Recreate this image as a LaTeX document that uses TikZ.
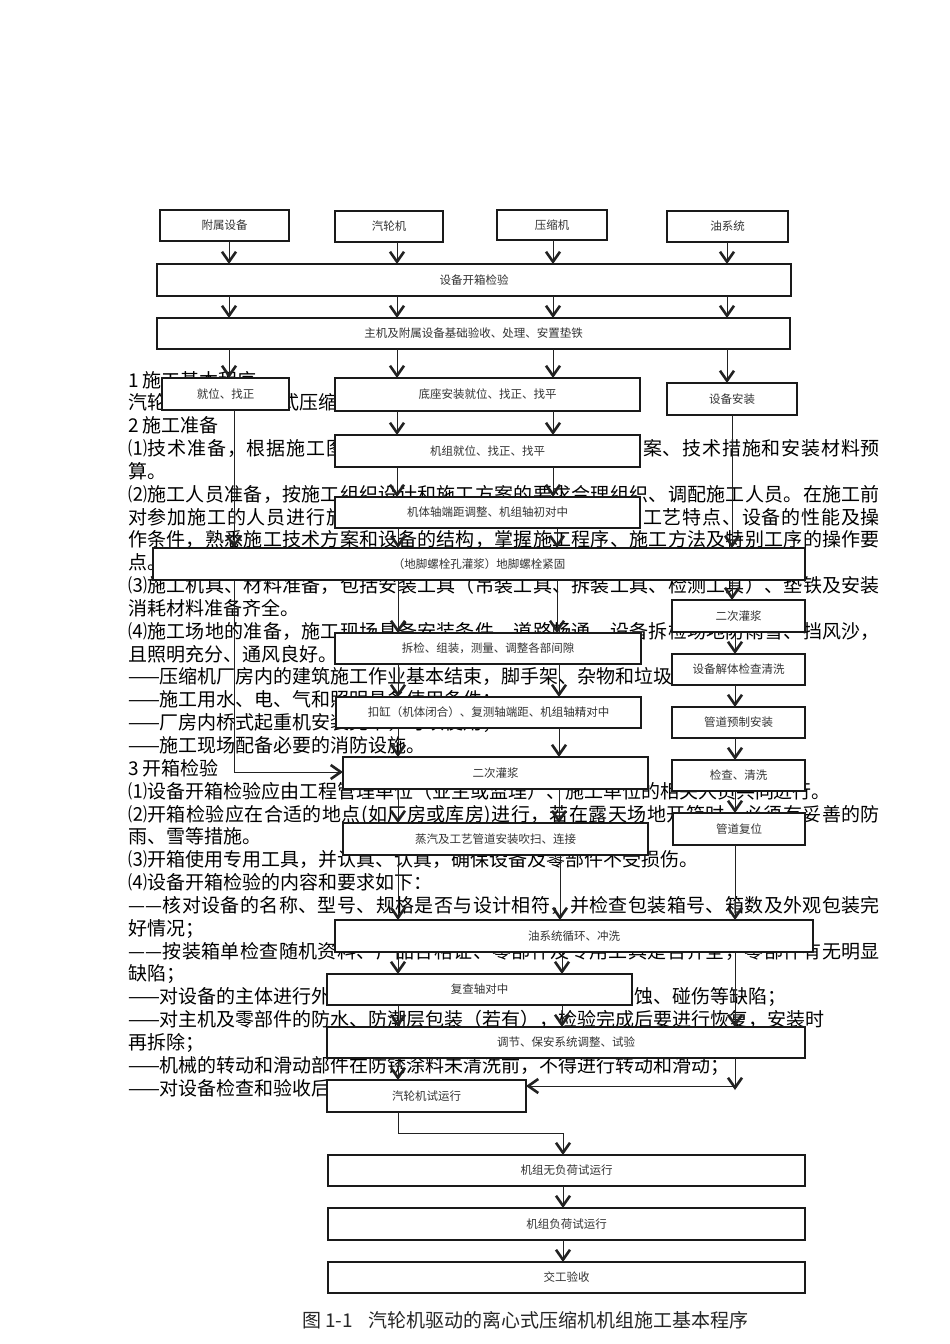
\documentclass[tikz,border=0pt]{standalone}
\usepackage{fontspec}
\setmainfont{Noto Sans CJK SC}
\usetikzlibrary{arrows.meta}
\pgfdeclarelayer{paper}
\pgfdeclarelayer{bg}
\pgfsetlayers{paper,bg,main}
\def\jlstop{\jlstop}
\newcommand\jlglue{\hskip 0pt plus 1fil minus 1pt\relax}
\newcommand\jline[1]{\hbox to 752pt{\jlfirst#1\jlstop}}
\def\jlfirst#1{#1\jlrest}
\def\jlrest#1{\ifx\jlstop#1\else\jlglue#1\expandafter\jlrest\fi}
\definecolor{boxline}{HTML}{1A1A1A}
\definecolor{labelc}{HTML}{333333}
\definecolor{linec}{HTML}{222222}
\tikzset{
  box/.style={draw=boxline, line width=1.3pt, fill=white, inner sep=0pt, outer sep=0pt,
    font=\fontsize{11.5}{13}\selectfont, text=labelc},
  txt/.style={anchor=base west, inner sep=0pt, outer sep=0pt, font=\fontsize{19}{22}\selectfont, text=black},
  arr/.style={draw=linec, line width=0.9pt, -{Straight Barb[length=10pt,width=14pt,line width=2.6pt]}},
  ln/.style={draw=linec, line width=0.9pt}
}
\newcommand\bx[6]{\node[box,minimum width={#4-#2},minimum height={#5-#3}] (#1) at ({(#2+#4)/2},{(#3+#5)/2}) {#6};}
\begin{document}
\begin{tikzpicture}[x=1pt,y=-1pt]
\useasboundingbox (0,0) rectangle (950,1344);
\begin{pgfonlayer}{paper}
\fill[white] (0,0) rectangle (950,1344);
\end{pgfonlayer}
% ---------- background text ----------
\begin{pgfonlayer}{bg}
\node[txt] (t1) at (128,387.0) {1 施工基本程序};
\node[txt] (t2) at (128,409.8) {汽轮机驱动的离心式压缩机机组施工基本程序见图1-1。};
\node[txt] (t3) at (128,432.7) {2 施工准备};
\node[txt] (t4) at (128,455.5) {\jline{⑴技术准备，根据施工图纸和设备技术文件编制施工技术方案、技术措施和安装材料预}};
\node[txt] (t5) at (128,478.4) {算。};
\node[txt] (t6) at (128,501.2) {\jline{⑵施工人员准备，按施工组织设计和施工方案的要求合理组织、调配施工人员。在施工前}};
\node[txt] (t7) at (128,524.0) {\jline{对参加施工的人员进行施工技术交底，使其了解压缩机组的工艺特点、设备的性能及操}};
\node[txt] (t8) at (128,546.9) {\jline{作条件，熟悉施工技术方案和设备的结构，掌握施工程序、施工方法及特别工序的操作要}};
\node[txt] (t9) at (128,569.7) {点。};
\node[txt] (t10) at (128,592.6) {\jline{⑶施工机具、材料准备，包括安装工具（吊装工具、拆装工具、检测工具）、垫铁及安装}};
\node[txt] (t11) at (128,615.4) {消耗材料准备齐全。};
\node[txt] (t12) at (128,638.2) {\jline{⑷施工场地的准备，施工现场具备安装条件，道路畅通，设备拆检场地防雨雪、挡风沙，}};
\node[txt] (t13) at (128,661.1) {且照明充分、通风良好。};
\node[txt] (t14) at (128,683.9) {——压缩机厂房内的建筑施工作业基本结束，脚手架、杂物和垃圾清理干净；};
\node[txt] (t15) at (128,706.8) {——施工用水、电、气和照明具备使用条件；};
\node[txt] (t16) at (128,729.6) {——厂房内桥式起重机安装完毕，可以使用；};
\node[txt] (t17) at (128,752.4) {——施工现场配备必要的消防设施。};
\node[txt] (t18) at (128,775.3) {3 开箱检验};
\node[txt] (t19) at (128,798.1) {⑴设备开箱检验应由工程管理单位（业主或监理）、施工单位的相关人员共同进行。};
\node[txt] (t20) at (128,821.0) {\jline{⑵开箱检验应在合适的地点(如厂房或库房)进行，若在露天场地开箱时，必须有妥善的防}};
\node[txt] (t21) at (128,843.8) {雨、雪等措施。};
\node[txt] (t22) at (128,866.6) {⑶开箱使用专用工具，并认真、认真，确保设备及零部件不受损伤。};
\node[txt] (t23) at (128,889.5) {⑷设备开箱检验的内容和要求如下：};
\node[txt] (t24) at (128,912.3) {\jline{——核对设备的名称、型号、规格是否与设计相符，并检查包装箱号、箱数及外观包装完}};
\node[txt] (t25) at (128,935.2) {好情况；};
\node[txt] (t26) at (128,958.0) {\jline{——按装箱单检查随机资料、产品合格证、零部件及专用工具是否齐全，零部件有无明显}};
\node[txt] (t27) at (128,980.8) {缺陷；};
\node[txt] (t28) at (128,1003.7) {——对设备的主体进行外观检查，检查其有无损坏、变形、锈蚀、碰伤等缺陷；};
\node[txt] (t29) at (128,1026.5) {——对主机及零部件的防水、防潮层包装（若有），检验完成后要进行恢复，安装时};
\node[txt] (t30) at (128,1049.4) {再拆除；};
\node[txt] (t31) at (128,1072.2) {——机械的转动和滑动部件在防锈涂料未清洗前，不得进行转动和滑动；};
\node[txt] (t32) at (128,1095.0) {——对设备检查和验收后应做好记录。};
\end{pgfonlayer}
% ---------- boxes ----------
\bx{fs}{160}{210}{289}{241}{附属设备}
\bx{qlj}{335}{211}{443}{242}{汽轮机}
\bx{ysj}{497}{210}{607}{240}{压缩机}
\bx{yxt}{667}{211}{788}{242}{油系统}
\bx{kx}{157}{264}{791}{296}{设备开箱检验}
\bx{jc}{157}{318}{790}{349}{主机及附属设备基础验收、处理、安置垫铁}
\bx{jw}{162}{378}{289}{410}{就位、找正}
\bx{dz}{335}{378}{640}{411}{底座安装就位、找正、找平}
\bx{sbaz}{667}{383}{797}{415}{设备安装}
\bx{jzjw}{335}{435}{640}{467}{机组就位、找正、找平}
\bx{jtz}{335}{497}{640}{528}{机体轴端距调整、机组轴初对中}
\bx{dj}{153}{548}{805}{580}{（地脚螺栓孔灌浆）地脚螺栓紧固}
\bx{ecR}{672}{600}{805}{632}{二次灌浆}
\bx{jt}{672}{654}{805}{685}{设备解体检查清洗}
\bx{gdyz}{672}{707}{805}{738}{管道预制安装}
\bx{jcqx}{672}{760}{805}{791}{检查、清洗}
\bx{gdfw}{673}{813}{805}{845}{管道复位}
\bx{cj}{335}{633}{641}{664}{拆检、组装，测量、调整各部间隙}
\bx{kg}{336}{697}{641}{728}{扣缸（机体闭合）、复测轴端距、机组轴精对中}
\bx{ecM}{343}{757}{648}{789}{二次灌浆}
\bx{zq}{343}{823}{648}{855}{蒸汽及工艺管道安装吹扫、连接}
\bx{yxh}{335}{920}{813}{952}{油系统循环、冲洗}
\bx{fc}{327}{974}{632}{1005}{复查轴对中}
\bx{tj}{327}{1027}{805}{1058}{调节、保安系统调整、试验}
\bx{qsy}{327}{1080}{526}{1112}{汽轮机试运行}
\bx{wfh}{328}{1155}{805}{1186}{机组无负荷试运行}
\bx{fh}{328}{1208}{805}{1240}{机组负荷试运行}
\bx{jg}{328}{1262}{805}{1293}{交工验收}
% ---------- column coordinates ----------
\coordinate (xA) at (229,0);
\coordinate (xB) at (397,0);
\coordinate (xC) at (553,0);
\coordinate (xD) at (727,0);
\coordinate (xL) at (234,0);
\coordinate (xM) at (398,0);
\coordinate (xN) at (559,0);
\coordinate (xR) at (732,0);
\coordinate (xS) at (735,0);
\coordinate (xT) at (562,0);
% ---------- connectors ----------
\draw[arr] (fs.south -| xA) -- (kx.north -| xA);
\draw[arr] (qlj.south -| xB) -- (kx.north -| xB);
\draw[arr] (ysj.south -| xC) -- (kx.north -| xC);
\draw[arr] (yxt.south -| xD) -- (kx.north -| xD);
\foreach \c in {xA,xB,xC,xD} \draw[arr] (kx.south -| \c) -- (jc.north -| \c);
\draw[arr] (jc.south -| xA) -- (jw.north -| xA);
\draw[arr] (jc.south -| xB) -- (dz.north -| xB);
\draw[arr] (jc.south -| xC) -- (dz.north -| xC);
\draw[arr] (jc.south -| xD) -- (sbaz.north -| xD);
\foreach \c in {xB,xC} {
  \draw[arr] (dz.south -| \c) -- (jzjw.north -| \c);
  \draw[arr] (jzjw.south -| \c) -- (jtz.north -| \c);
}
\draw[arr] (jtz.south -| xM) -- (dj.north -| xM);
\draw[arr] (jtz.south -| 557,0) -- (dj.north -| 557,0);
\draw[arr] (jw.south -| xL) -- (dj.north -| xL);
\draw[arr] (sbaz.south -| xR) -- (dj.north -| xR);
\draw[arr] (dj.south -| xR) -- (ecR.north -| xR);
\draw[arr] (dj.south -| xM) -- (cj.north -| xM);
\draw[arr] (dj.south -| 557,0) -- (cj.north -| 557,0);
\coordinate (lturn) at (234,772);
\draw[ln] (dj.south -| xL) -- (lturn);
\draw[arr] (lturn) -- (lturn -| ecM.west);
\foreach \c in {xM,xN} {
  \draw[arr] (cj.south -| \c) -- (kg.north -| \c);
  \draw[arr] (kg.south -| \c) -- (ecM.north -| \c);
  \draw[arr] (ecM.south -| \c) -- (zq.north -| \c);
}
\draw[arr] (zq.south -| xM) -- (yxh.north -| xM);
\draw[arr] (zq.south -| 560,0) -- (yxh.north -| 560,0);
\foreach \c in {xM,xT} {
  \draw[arr] (yxh.south -| \c) -- (fc.north -| \c);
  \draw[arr] (fc.south -| \c) -- (tj.north -| \c);
}
\draw[arr] (tj.south -| xM) -- (qsy.north -| xM);
% right column
\draw[arr] (ecR.south -| xS) -- (jt.north -| xS);
\draw[arr] (jt.south -| xS) -- (gdyz.north -| xS);
\draw[arr] (gdyz.south -| xS) -- (jcqx.north -| xS);
\draw[arr] (jcqx.south -| xS) -- (gdfw.north -| xS);
\draw[arr] (gdfw.south -| xS) -- (yxh.north -| xS);
\draw[arr] (yxh.south -| xS) -- (tj.north -| xS);
\coordinate (rdown) at (735,1090);
\coordinate (rturn) at (735,1086);
\draw[arr] (tj.south -| xS) -- (rdown);
\draw[arr] (rturn) -- (rturn -| qsy.east);
% bottom chain
\coordinate (bturn1) at (398,1133);
\coordinate (bturn2) at (563,1133);
\draw[ln] (qsy.south -| bturn1) -- (bturn1) -- (bturn2);
\draw[arr] (bturn2) -- (wfh.north -| bturn2);
\draw[arr] (wfh.south -| bturn2) -- (fh.north -| bturn2);
\draw[arr] (fh.south -| bturn2) -- (jg.north -| bturn2);
% caption
\node[anchor=base west, inner sep=0pt, font=\fontsize{19}{22}\selectfont, text=black!85] (cap) at (302,1327) {图 1-1\hspace{0.8em}汽轮机驱动的离心式压缩机机组施工基本程序};
\end{tikzpicture}
\end{document}
